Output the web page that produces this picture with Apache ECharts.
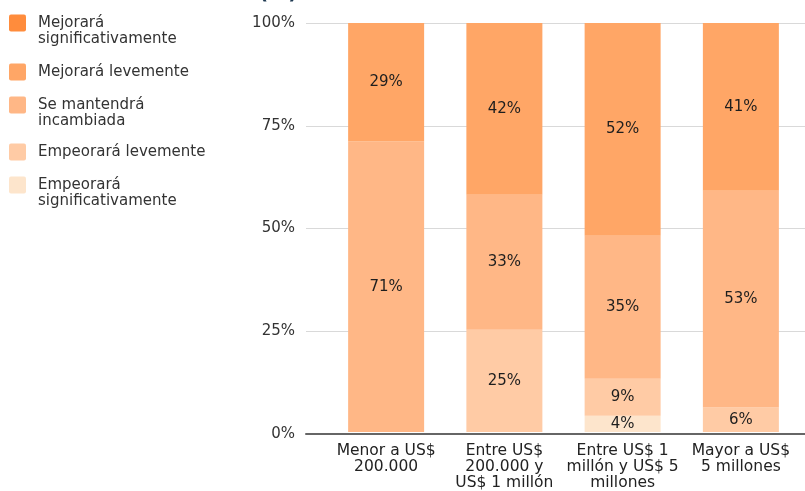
<!DOCTYPE html>
<html>
<head>
<meta charset="utf-8">
<script src="https://cdn.jsdelivr.net/npm/echarts@6/dist/echarts.min.js"></script>
<style>
html, body { margin: 0; padding: 0; background: #fff; }
#chart { width: 805px; height: 491px; }
</style>
</head>
<body>
<div id="chart"></div>
<script type="text/javascript">

// categorias del eje x (ventas anuales)
var categorias = ['Menor a US$\n200.000', 'Entre US$\n200.000 y\nUS$ 1 millón', 'Entre US$ 1\nmillón y US$ 5\nmillones', 'Mayor a US$\n5 millones'];

// valores en %, de abajo hacia arriba en la pila
var empeoraSig = [0, 0, 4, 0];
var empeoraLev = [0, 25, 9, 6];
var seMantiene = [71, 33, 35, 53];
var mejoraLev  = [29, 42, 52, 41];
var mejoraSig  = [0, 0, 0, 0];

var ticksY = [0, 25, 50, 75, 100];

var nombres = ['Empeorará significativamente', 'Empeorará levemente', 'Se mantendrá incambiada', 'Mejorará levemente', 'Mejorará significativamente'];
var etiquetasLeyenda = ['Empeorará\nsignificativamente', 'Empeorará levemente', 'Se mantendrá\nincambiada', 'Mejorará levemente', 'Mejorará\nsignificativamente'];
var valores = [empeoraSig, empeoraLev, seMantiene, mejoraLev, mejoraSig];
var colores = ['#FDE5CC', '#FFCBA5', '#FFB786', '#FFA666', '#FF8C3C'];

var chart = echarts.init(document.getElementById('chart'));

var series = [];
for (var i = 0; i < nombres.length; i++) {
    series.push({
        name: nombres[i],
        type: 'bar',
        stack: 'total',
        xAxisIndex: 0,
        yAxisIndex: 0,
        barWidth: 76,
        itemStyle: { color: colores[i] },
        label: {
            show: true,
            position: 'inside',
            fontFamily: 'DejaVu Sans',
            fontSize: 15,
            color: '#1e1e1e',
            formatter: function (p) { return p.value > 0 ? p.value + '%' : ''; }
        },
        data: valores[i]
    });
}

// leyenda a mano: el icono se alinea con la primera linea del texto
var leyenda = [];
var centrosY = [23, 72, 105, 152, 185];
for (var k = 0; k < 5; k++) {
    var idx = 4 - k; // de arriba hacia abajo
    leyenda.push({
        type: 'rect',
        shape: { x: 9, y: centrosY[k] - 8.5, width: 17, height: 17, r: 2 },
        style: { fill: colores[idx] }
    });
    leyenda.push({
        type: 'text',
        x: 38,
        y: centrosY[k] - 8,
        style: {
            text: etiquetasLeyenda[idx],
            font: '15px "DejaVu Sans"',
            lineHeight: 16,
            fill: '#333',
            verticalAlign: 'top'
        }
    });
}
// titulo cortado en el borde superior
leyenda.push({
    type: 'text',
    x: 259,
    y: -16,
    style: {
        text: '(%)',
        font: 'bold 20px "DejaVu Sans"',
        fill: '#1d3850',
        verticalAlign: 'top'
    }
});

var option = {
    animation: false,
    graphic: leyenda,
    grid: [
        { left: 327, right: 5, top: 23, bottom: 57 },
        { left: 306, right: 0, top: 23, bottom: 57 }
    ],
    xAxis: [
        {
            type: 'category',
            gridIndex: 0,
            data: categorias,
            axisLine: { show: false },
            axisTick: { show: false },
            axisLabel: {
                interval: 0,
                margin: 11,
                fontFamily: 'DejaVu Sans',
                fontSize: 15.5,
                lineHeight: 16,
                color: '#222'
            }
        },
        {
            type: 'value',
            gridIndex: 1,
            min: 0,
            max: 1,
            axisLine: { show: true, lineStyle: { color: '#666', width: 2 } },
            axisTick: { show: false },
            axisLabel: { show: false },
            splitLine: { show: false }
        }
    ],
    yAxis: [
        {
            type: 'value',
            gridIndex: 0,
            min: ticksY[0],
            max: ticksY[ticksY.length - 1],
            show: false
        },
        {
            type: 'value',
            gridIndex: 1,
            min: ticksY[0],
            max: ticksY[ticksY.length - 1],
            interval: 25,
            axisLine: { show: false },
            axisTick: { show: false },
            axisLabel: {
                margin: 11,
                fontFamily: 'DejaVu Sans',
                fontSize: 15,
                color: '#333',
                formatter: '{value}%'
            },
            splitLine: { lineStyle: { color: '#d9d9d9', width: 1 } }
        }
    ],
    series: series
};

chart.setOption(option);

</script>
</body>
</html>
